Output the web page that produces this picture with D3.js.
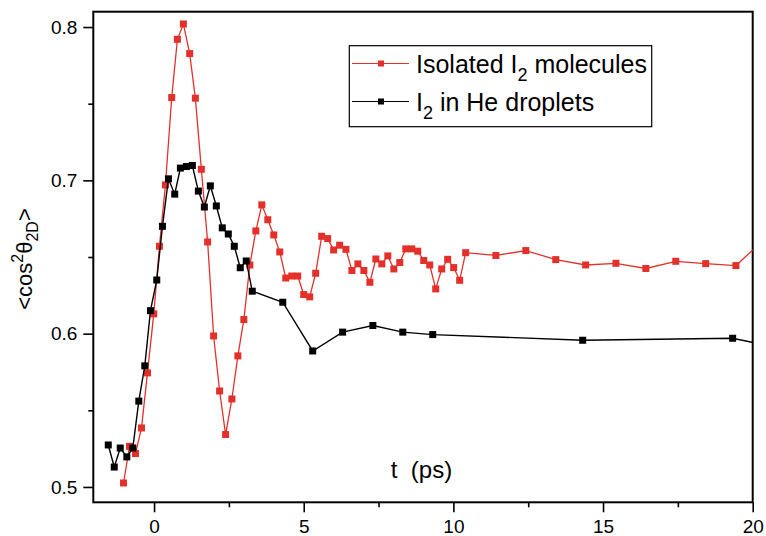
<!DOCTYPE html>
<html>
<head>
<meta charset="utf-8">
<script src="https://cdn.jsdelivr.net/npm/d3@7"></script>
<style>
  html, body { margin: 0; padding: 0; background: #fff; }
  svg { display: block; }
  text { font-family: "Liberation Sans", Arial, sans-serif; fill: #000; }
</style>
</head>
<body>
<svg id="chart" width="766" height="536"></svg>
<script>
// ---- data ----
const isolatedT = [-1.02,-0.82,-0.62,-0.42,-0.22,-0.01,0.18,0.38,0.59,0.78,0.98,1.19,1.38,1.58,1.79,1.99,2.19,2.39,2.60,2.80,3.00,3.20,3.40,3.60,3.80,4.00,4.20,4.40,4.60,4.80,5.00,5.20,5.40,5.60,5.80,6.00,6.20,6.41,6.61,6.81,7.01,7.21,7.41,7.61,7.81,8.01,8.21,8.41,8.61,8.81,9.01,9.21,9.41,9.61,9.81,10.01,10.21,10.41,11.42,12.42,13.42,14.42,15.43,16.43,17.43,18.43,19.44,20.44];
const isolatedV = [0.5026,0.5265,0.5218,0.5385,0.5744,0.6129,0.657,0.697,0.754,0.792,0.802,0.7827,0.7536,0.7072,0.6598,0.5985,0.5626,0.5342,0.5574,0.5855,0.6092,0.6448,0.667,0.684,0.6743,0.6644,0.6533,0.6363,0.6376,0.6376,0.6255,0.624,0.6394,0.6635,0.662,0.6546,0.6577,0.655,0.6412,0.6455,0.6412,0.6335,0.6487,0.6455,0.6507,0.6422,0.6464,0.6553,0.6553,0.6538,0.6477,0.6448,0.6292,0.6422,0.6485,0.6431,0.6348,0.6528,0.651,0.6542,0.6483,0.6448,0.6459,0.6425,0.6472,0.6457,0.6444,0.6625];
const dropletT = [-1.53,-1.33,-1.13,-0.91,-0.71,-0.51,-0.31,-0.12,0.09,0.28,0.48,0.69,0.88,1.08,1.28,1.48,1.68,1.88,2.08,2.28,2.48,2.68,2.88,3.08,3.28,4.30,5.30,6.30,7.31,8.31,9.31,14.32,19.33,20.33];
const dropletV = [0.5274,0.513,0.5254,0.5196,0.5254,0.556,0.579,0.615,0.635,0.670,0.701,0.691,0.708,0.709,0.7097,0.693,0.6826,0.6964,0.6833,0.669,0.665,0.657,0.643,0.6474,0.6277,0.6205,0.5887,0.601,0.6053,0.601,0.5994,0.5957,0.597,0.593];
const xTickMajor = [0, 5, 10, 15, 20];
const xTickMinor = [2.5, 7.5, 12.5, 17.5];
const yTickMajor = [0.5, 0.6, 0.7, 0.8];
const yTickMinor = [0.55, 0.65, 0.75];
const seriesNames = ["Isolated I", "I"];

const RED = "#e3302a";
const svg = d3.select("#chart");
const L = 93.3, R = 752.7, T = 11.7, B = 502.3;
const x = d3.scaleLinear().domain([-2.03, 20]).range([L, R]);
const y = d3.scaleLinear().domain([0.49, 0.81]).range([B, T]);

svg.append("defs").append("clipPath").attr("id", "clip")
  .append("rect").attr("x", L).attr("y", T).attr("width", R - L).attr("height", B - T);

// axes
const fmt = d3.format(".1f");
const xAxis = svg.append("g").attr("transform", `translate(0,${B})`)
  .call(d3.axisBottom(x).tickValues(xTickMajor).tickFormat(d3.format("d")).tickSize(10).tickPadding(7));
const xMinor = svg.append("g").attr("transform", `translate(0,${B})`)
  .call(d3.axisBottom(x).tickValues(xTickMinor).tickFormat("").tickSize(5));
const yAxis = svg.append("g").attr("transform", `translate(${L},0)`)
  .call(d3.axisLeft(y).tickValues(yTickMajor).tickFormat(fmt).tickSize(10).tickPadding(6));
const yMinor = svg.append("g").attr("transform", `translate(${L},0)`)
  .call(d3.axisLeft(y).tickValues(yTickMinor).tickFormat("").tickSize(5));
[xAxis, xMinor, yAxis, yMinor].forEach(g => {
  g.select(".domain").remove();
  g.selectAll("line").attr("stroke", "#000").attr("stroke-width", 1.6);
  g.selectAll("text").style("font-size", "19px").attr("fill", "#000");
});

// frame
svg.append("rect").attr("x", L).attr("y", T).attr("width", R - L).attr("height", B - T)
  .attr("fill", "none").attr("stroke", "#000").attr("stroke-width", 2);

const plot = svg.append("g").attr("clip-path", "url(#clip)");
const line = d3.line().x(d => x(d[0])).y(d => y(d[1]));

function drawSeries(ts, vs, color, lw, ms) {
  const data = ts.map((t, i) => [t, vs[i]]);
  plot.append("path").datum(data).attr("d", line)
    .attr("fill", "none").attr("stroke", color).attr("stroke-width", lw);
  plot.selectAll(null).data(data).enter().append("rect")
    .attr("x", d => x(d[0]) - ms / 2).attr("y", d => y(d[1]) - ms / 2)
    .attr("width", ms).attr("height", ms).attr("fill", color);
}
drawSeries(isolatedT, isolatedV, RED, 1.3, 7);
drawSeries(dropletT, dropletV, "#000", 1.4, 7);

// axis titles
svg.append("text").attr("x", 421.5).attr("y", 478).attr("text-anchor", "middle")
  .style("font-size", "24px").attr("xml:space", "preserve").text("t  (ps)");

const yt = svg.append("text").attr("transform", "translate(32,259) rotate(-90)")
  .attr("text-anchor", "middle").style("font-size", "22px");
yt.append("tspan").text("<cos");
yt.append("tspan").attr("dy", -9).style("font-size", "16px").text("2");
yt.append("tspan").attr("dy", 9).text("θ");
yt.append("tspan").attr("dy", 6).style("font-size", "16px").text("2D");
yt.append("tspan").attr("dy", -6).text(">");

// legend
const lg = svg.append("g");
lg.append("rect").attr("x", 349.3).attr("y", 45.7).attr("width", 302.4).attr("height", 81)
  .attr("fill", "#fff").attr("stroke", "#000").attr("stroke-width", 1.2);
const legendItems = [
  { name: seriesNames[0], tail: " molecules", color: RED, yy: 63.5 },
  { name: seriesNames[1], tail: " in He droplets", color: "#000", yy: 101.5 }
];
legendItems.forEach(it => {
  lg.append("line").attr("x1", 352).attr("x2", 409).attr("y1", it.yy).attr("y2", it.yy)
    .attr("stroke", it.color).attr("stroke-width", 1.2);
  lg.append("rect").attr("x", 381 - 3).attr("y", it.yy - 3).attr("width", 6).attr("height", 6)
    .attr("fill", it.color);
  const t = lg.append("text").attr("x", 416).attr("y", it.yy + 9).style("font-size", "25px")
    .attr("xml:space", "preserve");
  t.append("tspan").text(it.name);
  t.append("tspan").attr("dy", 8).style("font-size", "18px").text("2");
  t.append("tspan").attr("dy", -8).text(it.tail);
});
</script>
</body>
</html>
